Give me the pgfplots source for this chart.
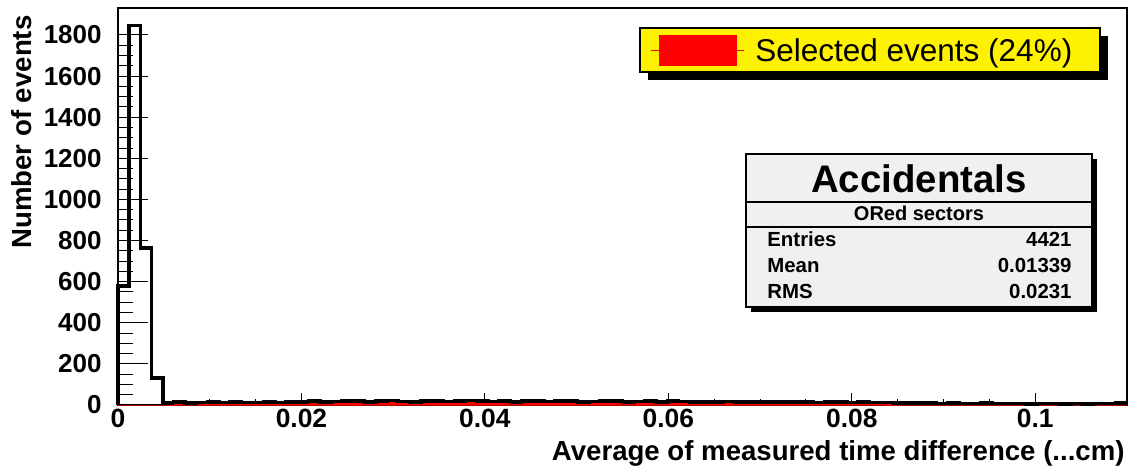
\documentclass[border=0pt]{standalone}
\usepackage{pgfplots}
\usepackage{pgfplotstable}
\pgfplotsset{compat=1.18}
\usepackage{fontspec}
\setmainfont{Liberation Sans}
\pgfplotstableread{
x b r
0 0 0
0 580 0
0.001222 1845 0
0.002444 765 0
0.003667 130 0
0.004889 12 0
0.006111 14 10
0.007333 11 11
0.008556 13 13
0.009778 15 10
0.011 12 12
0.012222 14 14
0.013444 13 13
0.014667 12 8
0.015889 15 15
0.017111 13 13
0.018333 14 10
0.019556 16 12
0.020778 18 14
0.022 15 15
0.023222 17 17
0.024444 20 20
0.025667 19 15
0.026889 16 16
0.028111 18 18
0.029333 21 16
0.030556 17 17
0.031778 16 16
0.033 19 15
0.034222 18 18
0.035444 17 17
0.036667 20 20
0.037889 22 22
0.039111 18 18
0.040333 17 17
0.041556 19 19
0.042778 16 16
0.044 18 14
0.045222 20 20
0.046444 17 17
0.047667 19 19
0.048889 18 18
0.050111 16 16
0.051333 17 13
0.052556 19 19
0.053778 18 18
0.055 16 16
0.056222 17 17
0.057444 18 14
0.058667 16 16
0.059889 19 19
0.061111 17 17
0.062333 15 11
0.063556 16 16
0.064778 14 14
0.066 17 13
0.067222 15 11
0.068444 14 14
0.069667 16 12
0.070889 15 11
0.072111 14 14
0.073333 16 12
0.074556 15 11
0.075778 13 9
0.077 14 10
0.078222 15 11
0.079444 13 13
0.080667 14 10
0.081889 12 8
0.083111 13 9
0.084333 12 0
0.085556 10 0
0.086778 9 0
0.088 10 0
0.089222 8 0
0.090444 9 0
0.091667 8 0
0.092889 7 0
0.094111 9 0
0.095333 8 0
0.096556 7 0
0.097778 8 0
0.099 6 0
0.100222 7 0
0.101444 8 0
0.102667 6 0
0.103889 7 0
0.105111 6 0
0.106333 7 0
0.107556 8 0
0.108778 9 0
0.11 9 0
}\histdata
\pgfplotsset{
  rootframe/.style={
    at={(0,0)}, anchor=south west,
    scale only axis, width=504.5bp, height=198.5bp,
    xmin=0, xmax=0.11, ymin=0, ymax=1931,
    tick align=inside, tick pos=left,
    xtick={0,0.02,0.04,0.06,0.08,0.1},
    minor x tick num=3,
    ytick={0,200,400,600,800,1000,1200,1400,1600,1800},
    minor y tick num=3,
  },
}
\begin{document}
\begin{tikzpicture}
\useasboundingbox (-59bp,-33bp) rectangle (506bp,202.5bp);
% overlay axis: only the short x ticks
\begin{axis}[
  rootframe,
  axis line style={draw=none},
  ytick=\empty, xticklabels={},
  major tick length=6bp, minor tick length=3bp,
  every tick/.style={line width=0.5bp, black},
]
\end{axis}
\begin{axis}[
  rootframe,
  clip=false,
  axis line style={line width=1bp},
  major tick length=15bp, minor tick length=7.5bp,
  every tick/.style={line width=0.5bp, black},
  xtick style={draw=none},
  xticklabels={0,0.02,0.04,0.06,0.08,0.1},
  yticklabels={0,200,400,600,800,1000,1200,1400,1600,1800},
  /pgf/number format/assume math mode=true,
  xticklabel style={font=\fontsize{13.2bp}{15bp}\selectfont\bfseries, anchor=north, inner sep=0pt, yshift=-2bp},
  yticklabel style={font=\fontsize{13bp}{15bp}\selectfont\bfseries, anchor=east, inner sep=0pt, xshift=-8bp},
  xlabel={Average of measured time difference (...cm)},
  ylabel={Number of events},
  label style={font=\fontsize{13.8bp}{16bp}\selectfont\bfseries},
  xlabel style={at={(axis description cs:0.998,-0.141)}, anchor=base east, inner sep=0pt},
  ylabel style={at={(axis description cs:-0.0951,0.982)}, anchor=east, inner sep=0pt},
]
\addplot[const plot, fill=red, draw=red, line width=0.5bp] table[x=x,y=r] {\histdata} \closedcycle;
\addplot[const plot, draw=black, line width=1.8bp] table[x=x,y=b] {\histdata};
\end{axis}
\begin{scope}[x=0.5bp,y=-0.5bp,shift={(-59bp,202.5bp)}]
  % legend
  \fill[black] (648,36) rectangle (1108,80);
  \filldraw[fill=yellow, draw=black, line width=0.6bp] (640,28) rectangle (1100,72);
  \draw[red, line width=0.5bp] (651,50.5) -- (744,50.5);
  \fill[red] (659,35) rectangle (737,66);
  \node[anchor=base west, inner sep=0pt, font=\fontsize{15.75bp}{18bp}\selectfont] at (755,62) {Selected events (24\%)};
  % stats box
  \fill[black] (751,159) rectangle (1097,312);
  \filldraw[fill=black!6, draw=black, line width=0.6bp] (746,154) rectangle (1092,307);
  \draw[line width=0.6bp] (746,202) -- (1092,202);
  \draw[line width=0.6bp] (746,227) -- (1092,227);
  \node[anchor=base, inner sep=0pt, font=\fontsize{19.2bp}{22bp}\selectfont\bfseries] at (919,193) {Accidentals};
  \node[anchor=base, inner sep=0pt, font=\fontsize{10bp}{12bp}\selectfont\bfseries] at (919,221) {ORed sectors};
  \begin{scope}[every node/.style={inner sep=0pt, font=\fontsize{10.2bp}{12bp}\selectfont\bfseries}]
    \node[anchor=base west] at (767,247) {Entries};
    \node[anchor=base east] at (1072,247) {4421};
    \node[anchor=base west] at (767,273) {Mean};
    \node[anchor=base east] at (1072,273) {0.01339};
    \node[anchor=base west] at (767,299) {RMS};
    \node[anchor=base east] at (1072,299) {0.0231};
  \end{scope}
\end{scope}
\end{tikzpicture}
\end{document}
